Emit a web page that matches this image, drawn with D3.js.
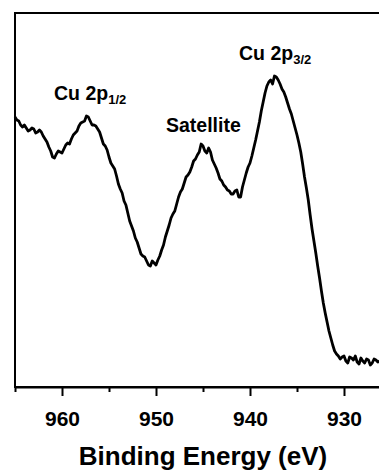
<!DOCTYPE html>
<html>
<head>
<meta charset="utf-8">
<title>Cu 2p XPS</title>
<style>
  body { margin: 0; background: #fff; }
  svg { display: block; font-family: "Liberation Sans", Arial, sans-serif; font-weight: bold; }
  .axis path, .axis line { stroke: #000; stroke-width: 2; }
</style>
</head>
<body>
<div id="chart"></div>
<script src="https://d3js.org/d3.v7.min.js"></script>
<script>
// binding energy (eV) and intensity (a.u.)
var energy = [965.0, 964.8, 964.6, 964.4, 964.2, 964.0, 963.8, 963.6, 963.4, 963.2,
              963.0, 962.8, 962.6, 962.4, 962.2, 962.0, 961.8, 961.6, 961.4, 961.2,
              961.0, 960.8, 960.6, 960.4, 960.2, 960.0, 959.8, 959.6, 959.4, 959.2,
              959.0, 958.8, 958.6, 958.4, 958.2, 958.0, 957.8, 957.6, 957.4, 957.2,
              957.0, 956.8, 956.6, 956.4, 956.2, 956.0, 955.8, 955.6, 955.4, 955.2,
              955.0, 954.8, 954.6, 954.4, 954.2, 954.0, 953.8, 953.6, 953.4, 953.2,
              953.0, 952.8, 952.6, 952.4, 952.2, 952.0, 951.8, 951.6, 951.4, 951.2,
              951.0, 950.8, 950.6, 950.4, 950.2, 950.0, 949.8, 949.6, 949.4, 949.2,
              949.0, 948.8, 948.6, 948.4, 948.2, 948.0, 947.8, 947.6, 947.4, 947.2,
              947.0, 946.8, 946.6, 946.4, 946.2, 946.0, 945.8, 945.6, 945.4, 945.2,
              945.0, 944.8, 944.6, 944.4, 944.2, 944.0, 943.8, 943.6, 943.4, 943.2,
              943.0, 942.8, 942.6, 942.4, 942.2, 942.0, 941.8, 941.6, 941.4, 941.2,
              941.0, 940.8, 940.6, 940.4, 940.2, 940.0, 939.8, 939.6, 939.4, 939.2,
              939.0, 938.8, 938.6, 938.4, 938.2, 938.0, 937.8, 937.6, 937.4, 937.2,
              937.0, 936.8, 936.6, 936.4, 936.2, 936.0, 935.8, 935.6, 935.4, 935.2,
              935.0, 934.8, 934.6, 934.4, 934.2, 934.0, 933.8, 933.6, 933.4, 933.2,
              933.0, 932.8, 932.6, 932.4, 932.2, 932.0, 931.8, 931.6, 931.4, 931.2,
              931.0, 930.8, 930.6, 930.4, 930.2, 930.0, 929.8, 929.6, 929.4, 929.2,
              929.0, 928.8, 928.6, 928.4, 928.2, 928.0, 927.8, 927.6, 927.4, 927.2,
              927.0, 926.8, 926.6, 926.4, 926.2];
var intensity = [270, 267, 266, 262, 260, 262, 259, 256, 257, 259,
                 258, 254, 255, 257, 255, 251, 248, 245, 240, 236,
                 230, 229, 233, 236, 235, 234, 238, 242, 244, 243,
                 248, 252, 254, 256, 261, 264, 265, 266, 271, 270,
                 266, 262, 262, 261, 258, 255, 249, 243, 241, 237,
                 230, 224, 221, 218, 211, 203, 198, 194, 186, 182,
                 174, 166, 161, 156, 149, 145, 139, 133, 131, 130,
                 126, 122, 121, 126, 124, 122, 127, 131, 137, 142,
                 150, 156, 162, 169, 173, 176, 183, 190, 195, 198,
                 204, 210, 212, 215, 220, 226, 228, 232, 235, 243,
                 241, 236, 234, 239, 235, 227, 223, 219, 214, 208,
                 206, 202, 200, 197, 196, 193, 193, 196, 197, 190,
                 190, 200, 207, 214, 220, 224, 231, 239, 247, 256,
                 265, 276, 285, 294, 301, 305, 307, 303, 311, 310,
                 307, 303, 298, 295, 290, 284, 278, 273, 266, 259,
                 252, 244, 235, 223, 210, 199, 187, 172, 158, 146,
                 134, 121, 109, 96, 84, 74, 65, 56, 49, 42,
                 36, 33, 31, 28, 30, 31, 26, 24, 30, 29,
                 27, 31, 25, 23, 29, 26, 24, 28, 27, 22,
                 24, 28, 27, 25, 26];

var majorTicks = [960, 950, 940, 930];
var minorTicks = [965, 955, 945, 935, 925];

// peak annotations: main text, subscript, anchor energy, anchor intensity
var peakNames = ["Cu 2p", "Satellite", "Cu 2p"];
var peakSubs = ["1/2", "", "3/2"];
var peakE = [960.85, 948.94, 941.17];
var peakI = [287, 255, 327];

var W = 379, H = 470;
var svg = d3.select("#chart").append("svg")
    .attr("width", W)
    .attr("height", H);

var x = d3.scaleLinear().domain([965, 925]).range([15, 391]);
var y = d3.scaleLinear().domain([0, 374]).range([387, 13]);

// frame
svg.append("rect")
    .attr("x", x(965)).attr("y", y(374))
    .attr("width", x(925) - x(965)).attr("height", y(0) - y(374))
    .attr("fill", "none").attr("stroke", "#000").attr("stroke-width", 2);

// minor ticks
svg.append("g")
    .attr("class", "axis")
    .attr("transform", "translate(0," + y(0) + ")")
    .call(d3.axisBottom(x).tickValues(minorTicks).tickSize(5).tickSizeOuter(0).tickFormat(""))
    .select(".domain").remove();

// major ticks + labels
var xAxis = svg.append("g")
    .attr("class", "axis")
    .attr("transform", "translate(0," + y(0) + ")")
    .call(d3.axisBottom(x).tickValues(majorTicks).tickSize(9).tickSizeOuter(0).tickPadding(15));
xAxis.selectAll("text")
    .attr("font-size", 21)
    .attr("font-family", "Liberation Sans, Arial, sans-serif")
    .attr("font-weight", "bold")
    .attr("fill", "#000");

// x title
svg.append("text")
    .attr("x", (x(965) + x(925)) / 2)
    .attr("y", 465)
    .attr("text-anchor", "middle")
    .attr("font-size", 26)
    .text("Binding Energy (eV)");

// spectrum
var data = energy.map(function(e, i) { return [e, intensity[i]]; });
svg.append("path")
    .datum(data)
    .attr("fill", "none")
    .attr("stroke", "#000")
    .attr("stroke-width", 2.8)
    .attr("stroke-linejoin", "round")
    .attr("d", d3.line()
        .x(function(d) { return x(d[0]); })
        .y(function(d) { return y(d[1]); }));

// peak labels
peakNames.forEach(function(name, i) {
    var t = svg.append("text")
        .attr("x", x(peakE[i]))
        .attr("y", y(peakI[i]))
        .attr("font-size", 19.5);
    t.append("tspan").text(name);
    if (peakSubs[i]) {
        t.append("tspan")
            .attr("font-size", 13)
            .attr("dy", 4)
            .text(peakSubs[i]);
    }
});
</script>
</body>
</html>
